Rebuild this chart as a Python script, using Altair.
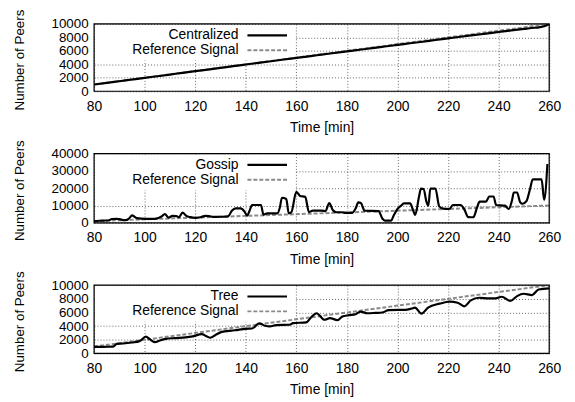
import altair as alt
import pandas as pd

FONT = "Liberation Sans"

time_ticks = [80, 100, 120, 140, 160, 180, 200, 220, 240, 260]
peer_ticks_small = [0, 2000, 4000, 6000, 8000, 10000]
peer_ticks_large = [0, 10000, 20000, 30000, 40000]

ref_label = "Reference Signal"
ref_time = [80, 260]
ref_peers = [1000, 10000]

central_label = "Centralized"
central_time = [80, 85, 90, 95, 100, 105, 110, 115, 120, 125, 130, 135, 140, 145, 150,
                155, 160, 165, 170, 175, 180, 185, 190, 195, 200, 205, 210, 215, 220,
                225, 230, 235, 240, 245, 250, 253, 256, 258, 260]
central_peers = [1000, 1240, 1490, 1740, 1990, 2230, 2480, 2740, 2980, 3220, 3470, 3730,
                 3970, 4210, 4460, 4720, 4950, 5190, 5440, 5690, 5930, 6170, 6400, 6650,
                 6880, 7130, 7360, 7620, 7850, 8100, 8330, 8560, 8800, 9040, 9260, 9400,
                 9500, 9650, 10000]

gossip_label = "Gossip"
gossip_time = [80, 82, 84, 86, 87, 89, 90, 92, 93, 94, 95, 96, 97, 99, 101, 103, 105,
               106.5, 108, 109.5, 111, 112.5, 113.5, 115, 116.5, 118, 120, 122, 124,
               125.5, 127, 130, 133, 134.5, 136, 138, 139.5, 140.5, 141.5, 142.5, 146,
               147, 148.5, 152.5, 153.5, 154.3, 156, 157, 158, 160, 161.5, 163.5, 165,
               166.5, 170, 171.5, 173, 174.5, 176, 178, 179.5, 182, 183.5, 184.5, 185.5,
               187, 192.5, 194, 195, 197.5, 198.5, 200, 201.5, 202.5, 205, 206, 207,
               208.5, 209.3, 210.3, 211.5, 212.2, 213, 215, 216.5, 218, 220.5, 222, 225,
               226.5, 228, 230, 231.5, 232.5, 235, 236.3, 238, 239, 242.5, 244, 245.3,
               246, 247.3, 248.5, 249.5, 251, 252.5, 253.5, 257, 258, 259.3]
gossip_peers = [1000, 1200, 1300, 1500, 2200, 2300, 2100, 1500, 1700, 2800, 4300, 3500,
                2700, 2400, 2300, 2300, 2600, 3500, 5000, 3000, 4000, 3900, 3200, 5900,
                4000, 3300, 2900, 3200, 4000, 3900, 3400, 3500, 3700, 7000, 8300, 8300,
                6500, 4200, 7000, 10300, 10300, 4700, 5500, 5500, 9000, 14500, 13800,
                5500, 6000, 17900, 15500, 15000, 6200, 7000, 7000, 6800, 11400, 7200,
                6100, 6100, 5700, 5700, 8500, 11800, 11500, 7000, 6800, 2500, 1300, 1300,
                4200, 8000, 10000, 11200, 11200, 8000, 4600, 15000, 19800, 19500, 12000,
                9900, 19800, 19800, 9500, 8200, 8000, 10300, 10300, 7500, 3300, 3200,
                9000, 12200, 12200, 15200, 15200, 10300, 9900, 8000, 13000, 17500, 17500,
                12000, 11000, 12500, 20000, 25100, 25100, 13300, 34000]

tree_label = "Tree"
tree_time = [80, 84, 87.5, 89, 91.5, 95, 98, 100.5, 102, 104, 106, 108.3, 112, 116.2,
             119, 122.6, 124.5, 126, 128, 130.5, 134.4, 137, 139.7, 142.5, 145.3, 147.6,
             149.5, 152, 157.4, 158.7, 163.9, 165.8, 168, 171.1, 173.3, 176.3, 178.2,
             180.8, 183.4, 185.4, 188, 191.3, 193.9, 196.5, 200.4, 203, 205.6, 206.9,
             209.5, 212.1, 216.7, 220.6, 223.8, 226.4, 229, 232.3, 236.2, 238.8, 241.2,
             244.7, 247.3, 249.9, 253.2, 255.8, 260]
tree_peers = [950, 970, 1000, 1400, 1450, 1600, 1800, 2450, 2100, 1650, 1900, 2130, 2250,
              2350, 2500, 2820, 2500, 2300, 2700, 3150, 3350, 3450, 3600, 3650, 4400, 4060,
              3960, 4150, 4200, 4440, 4540, 5270, 5890, 4930, 5170, 4880, 5410, 5600, 5750,
              6130, 5890, 5940, 5990, 6330, 6380, 6380, 6570, 6710, 5840, 6710, 7290, 7580,
              7430, 6900, 7770, 8160, 8060, 8060, 8300, 7680, 8400, 8740, 8550, 9370, 9520]

W = 460


def panel(label, t, v, ymax, yticks, height):
    df = pd.DataFrame({"t": t, "v": v})
    ref = pd.DataFrame({"t": ref_time, "v": ref_peers})
    one = pd.DataFrame({"k": [0]})

    xenc = alt.X(
        "t:Q",
        scale=alt.Scale(domain=[80, 260], nice=False, zero=False),
        axis=alt.Axis(
            values=time_ticks, title="Time [min]", grid=True, gridDash=[1, 2],
            gridColor="black", gridOpacity=0.75, gridWidth=0.8, domain=False,
            ticks=False, tickSize=0, labelPadding=8, labelFont=FONT, labelFontSize=14,
            labelColor="black", labelFlush=False, labelOverlap=False, titleFont=FONT,
            titleFontSize=14, titleFontWeight="normal", titleColor="black",
            titleX=W / 2, titleY=37, titleBaseline="middle", titleAlign="center",
        ),
    )
    yenc = alt.Y(
        "v:Q",
        scale=alt.Scale(domain=[0, ymax], nice=False),
        axis=alt.Axis(
            values=yticks, title="Number of Peers", grid=True, gridDash=[1, 2],
            gridColor="black", gridOpacity=0.75, gridWidth=0.8, domain=False,
            ticks=False, tickSize=0, labelPadding=6, labelFont=FONT, labelFontSize=13.5,
            labelColor="black", labelFlush=False, labelOverlap=False, format="d",
            titleFont=FONT, titleFontSize=13.5, titleFontWeight="normal",
            titleColor="black", titleX=-75, titleY=height / 2 + 2, titleAngle=270,
            titleAlign="center", titleBaseline="middle",
        ),
    )

    box = alt.Chart(one).mark_rect(fill="white", stroke="white", strokeWidth=0).encode(
        x=alt.value(1), x2=alt.value(203), y=alt.value(1), y2=alt.value(37)
    )
    ref_line = alt.Chart(ref).mark_line(
        color="#8a8a8a", strokeWidth=2, strokeDash=[4, 2], clip=True
    ).encode(x=xenc, y=yenc)
    data_line = alt.Chart(df).mark_line(
        color="black", strokeWidth=2.2, clip=True, interpolate="monotone"
    ).encode(x=xenc, y=yenc)

    def legend_row(text, ypos, color, width, dash=None):
        d = pd.DataFrame({"label": [text]})
        txt = alt.Chart(d).mark_text(
            align="right", baseline="middle", font=FONT, fontSize=14, color="black"
        ).encode(x=alt.value(146), y=alt.value(ypos), text="label:N")
        kw = dict(color=color, strokeWidth=width)
        if dash:
            kw["strokeDash"] = dash
        smp = alt.Chart(d).mark_rule(**kw).encode(
            x=alt.value(155), x2=alt.value(195), y=alt.value(ypos)
        )
        return txt + smp

    leg1 = legend_row(label, 11.5, "black", 2.2)
    leg2 = legend_row(ref_label, 26.5, "#8a8a8a", 2, [4, 2])

    frame = alt.Chart(one).mark_rect(
        fill="white", fillOpacity=0, stroke="black", strokeWidth=1.2
    ).encode(x=alt.value(0), x2=alt.value(W), y=alt.value(0), y2=alt.value(height))

    return alt.layer(box, ref_line, data_line, leg1, leg2, frame).properties(
        width=W, height=height
    )


p1 = panel(central_label, central_time, central_peers, 10000, peer_ticks_small, 68)
p2 = panel(gossip_label, gossip_time, gossip_peers, 40000, peer_ticks_large, 70)
p3 = panel(tree_label, tree_time, tree_peers, 10000, peer_ticks_small, 69)

chart = (
    alt.vconcat(p1, p2, p3, spacing=63, bounds="flush")
    .properties(padding={"left": 4, "top": -2, "right": 5, "bottom": 5})
    .configure_view(strokeWidth=0)
    .configure(background="white")
)

chart.save("out.html", embed_options={"renderer": "svg", "actions": False})
